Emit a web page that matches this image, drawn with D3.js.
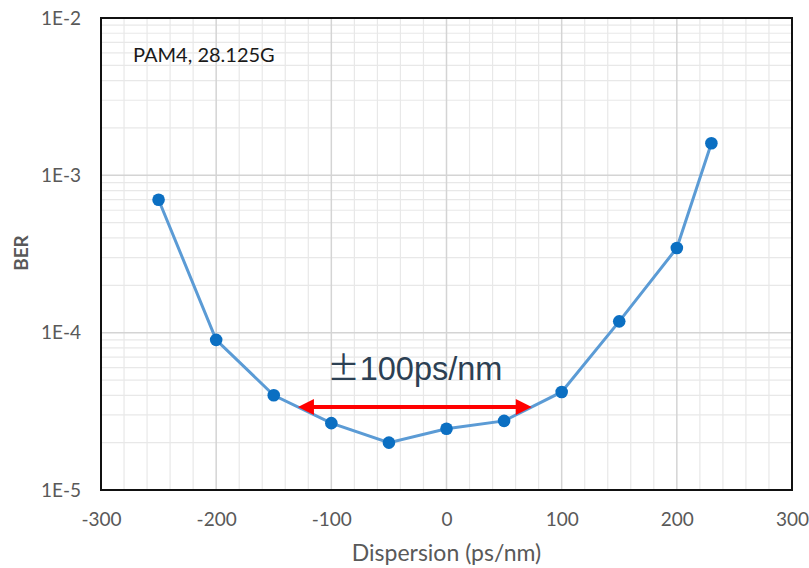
<!DOCTYPE html>
<html><head><meta charset="utf-8">
<script src="https://cdn.jsdelivr.net/npm/d3@7"></script>
<style>body{margin:0;background:#fff;} svg{display:block;}</style>
</head><body>
<svg id="c" width="809" height="568"></svg>
<script>
const dispersion = [-250, -200, -150, -100, -50, 0, 50, 100, 150, 200, 230];
const ber = [7e-4, 9e-5, 4e-5, 2.66e-5, 2e-5, 2.45e-5, 2.75e-5, 4.2e-5, 1.18e-4, 3.45e-4, 1.6e-3];
const xTicks = [-300, -200, -100, 0, 100, 200, 300];
const xTickLabels = ["-300", "-200", "-100", "0", "100", "200", "300"];
const yTicks = [1e-5, 1e-4, 1e-3, 1e-2];
const yTickLabels = ["1E-5", "1E-4", "1E-3", "1E-2"];
const arrowX = [-129, 74];
const arrowY = 3.37e-5;
const annotationSign = "±";
const annotation = "100ps/nm";
const title = "PAM4, 28.125G";

const FONT = "Lato, 'Noto Sans', sans-serif";
const svg = d3.select("#c");
const L = 101, R = 792, T = 18, B = 490;
const x = d3.scaleLinear().domain([-300, 300]).range([L, R]);
const y = d3.scaleLog().domain([1e-5, 1e-2]).range([B, T]);

// minor grid
const g = svg.append("g");
const minorX = d3.range(-300, 301, 20).filter(v => v % 100 !== 0);
g.selectAll(".mx").data(minorX).enter().append("line")
  .attr("x1", d => x(d)).attr("x2", d => x(d)).attr("y1", T).attr("y2", B)
  .attr("stroke", "#e8e8e8").attr("stroke-width", 1.2);
const minorY = [];
[1e-5, 1e-4, 1e-3].forEach(d => { for (let k = 2; k <= 9; k++) minorY.push(d * k); });
g.selectAll(".my").data(minorY).enter().append("line")
  .attr("x1", L).attr("x2", R).attr("y1", d => y(d)).attr("y2", d => y(d))
  .attr("stroke", "#e8e8e8").attr("stroke-width", 1.2);
// major grid
g.selectAll(".Mx").data(xTicks).enter().append("line")
  .attr("x1", d => x(d)).attr("x2", d => x(d)).attr("y1", T).attr("y2", B)
  .attr("stroke", "#d4d4d4").attr("stroke-width", 1.5);
g.selectAll(".My").data(yTicks).enter().append("line")
  .attr("x1", L).attr("x2", R).attr("y1", d => y(d)).attr("y2", d => y(d))
  .attr("stroke", "#d4d4d4").attr("stroke-width", 1.5);

// frame
svg.append("rect").attr("x", L).attr("y", T).attr("width", R - L).attr("height", B - T)
  .attr("fill", "none").attr("stroke", "#111").attr("stroke-width", 2);

// axes
const xAxis = d3.axisBottom(x).tickValues(xTicks).tickFormat((d, i) => xTickLabels[i]).tickSize(0).tickPadding(23);
svg.append("g").attr("transform", `translate(0,${B})`).call(xAxis)
  .call(s => s.select(".domain").remove())
  .selectAll("text").attr("font-family", FONT).attr("font-size", 19).attr("fill", "#595959");
const yAxis = d3.axisLeft(y).tickValues(yTicks).tickFormat((d, i) => yTickLabels[i]).tickSize(0).tickPadding(20);
svg.append("g").attr("transform", `translate(${L},0)`).call(yAxis)
  .call(s => s.select(".domain").remove())
  .selectAll("text").attr("font-family", FONT).attr("font-size", 19).attr("fill", "#595959");

// titles
svg.append("text").attr("x", (L + R) / 2).attr("y", 561).attr("text-anchor", "middle")
  .attr("font-family", FONT).attr("font-size", 23).attr("fill", "#595959")
  .text("Dispersion (ps/nm)");
svg.append("text").attr("transform", "translate(28,253) rotate(-90)").attr("text-anchor", "middle")
  .attr("font-family", FONT).attr("font-weight", "bold").attr("font-size", 19).attr("fill", "#595959")
  .text("BER");
svg.append("text").attr("x", 133).attr("y", 62)
  .attr("font-family", FONT).attr("font-size", 20).attr("fill", "#1a1a1a")
  .text(title);

// line + points
const data = dispersion.map((d, i) => ({ x: d, y: ber[i] }));
svg.append("path").datum(data)
  .attr("d", d3.line().x(d => x(d.x)).y(d => y(d.y)))
  .attr("fill", "none").attr("stroke", "#5B9BD5").attr("stroke-width", 3);
svg.selectAll(".pt").data(data).enter().append("circle")
  .attr("cx", d => x(d.x)).attr("cy", d => y(d.y)).attr("r", 6.3)
  .attr("fill", "#0B6FC2");

// arrow
const ay = y(arrowY);
const x0 = x(arrowX[0]), x1 = x(arrowX[1]);
const hl = 16, hw = 8;
svg.append("line").attr("x1", x0 + hl - 2).attr("x2", x1 - hl + 2).attr("y1", ay).attr("y2", ay)
  .attr("stroke", "#FF0000").attr("stroke-width", 4);
svg.append("path").attr("d", `M${x0},${ay} L${x0 + hl},${ay - hw} L${x0 + hl},${ay + hw} Z`).attr("fill", "#FF0000");
svg.append("path").attr("d", `M${x1},${ay} L${x1 - hl},${ay - hw} L${x1 - hl},${ay + hw} Z`).attr("fill", "#FF0000");

const ann = svg.append("text").attr("x", (x0 + x1) / 2).attr("y", 380).attr("text-anchor", "middle")
  .attr("font-family", "'Liberation Sans', Arial, sans-serif").attr("font-size", 32.5).attr("fill", "#2C4053");
ann.append("tspan").attr("font-family", "'Noto Sans CJK SC', 'Liberation Sans', sans-serif").text(annotationSign);
ann.append("tspan").text(annotation);
</script>
</body></html>
